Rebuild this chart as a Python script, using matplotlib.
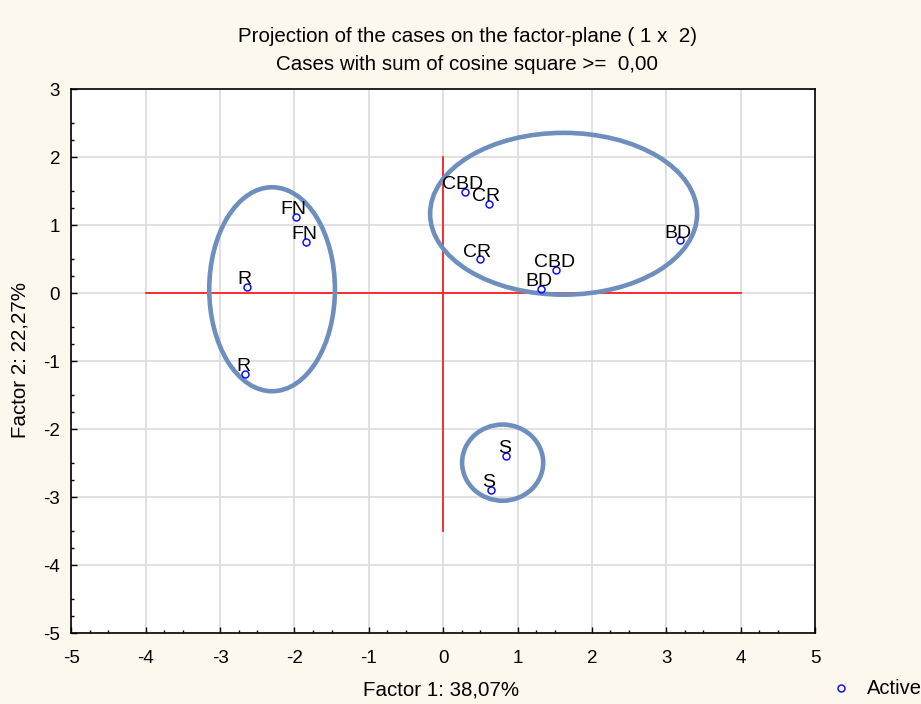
import numpy as np
import matplotlib.pyplot as plt
from matplotlib.patches import Ellipse
from matplotlib.ticker import MultipleLocator, FixedLocator

plt.rcParams['font.family'] = ['Liberation Sans', 'DejaVu Sans']
plt.rcParams['axes.unicode_minus'] = False

# case coordinates on the factor plane
labels = ['CBD', 'CR', 'CR', 'CBD', 'BD', 'BD', 'FN', 'FN', 'R', 'R', 'S', 'S']
factor1 = [0.29, 0.61, 0.49, 1.52, 1.32, 3.19, -1.98, -1.84, -2.64, -2.66, 0.85, 0.64]
factor2 = [1.49, 1.31, 0.50, 0.35, 0.06, 0.78, 1.12, 0.76, 0.09, -1.18, -2.39, -2.89]

# hand drawn group ellipses: (centre x, centre y, width, height)
groups = [(-2.30, 0.06, 1.69, 3.00),
          (1.62, 1.17, 3.59, 2.38),
          (0.80, -2.49, 1.09, 1.12)]

bg = '#fdf8ee'
fig = plt.figure(figsize=(9.21, 7.04), dpi=100, facecolor=bg)
ax = fig.add_axes([0.0774, 0.1004, 0.8075, 0.7727])

ax.set_xlim(-5, 5)
ax.set_ylim(-5, 3)
ax.xaxis.set_major_locator(MultipleLocator(1))
ax.yaxis.set_major_locator(MultipleLocator(1))
# two small ticks in each unit, like Statistica draws them
xs = np.arange(-5, 5)
ys = np.arange(-5, 3)
ax.xaxis.set_minor_locator(FixedLocator(np.concatenate([xs + 0.5, xs + 0.25])))
ax.yaxis.set_minor_locator(FixedLocator(np.concatenate([ys + 0.5, ys + 0.25])))
ax.tick_params(which='both', direction='in', color='black')
ax.tick_params(which='major', length=4, width=1, labelsize=13.5, pad=8)
ax.tick_params(which='minor', length=2.5, width=1)
ax.tick_params(axis='x', pad=12)
ax.grid(True, which='major', color='#dcdcdc', lw=1.2)
ax.set_axisbelow(True)
for s in ax.spines.values():
    s.set_linewidth(1.2)

# origin cross
ax.plot([-4, 4], [0, 0], color='#ff2020', lw=1.3, zorder=2)
ax.plot([0, 0], [-3.5, 2], color='#ff2020', lw=1.3, zorder=2)

ax.plot(factor1, factor2, 'o', mfc='none', mec='#1010ff', ms=5, mew=1.1, zorder=4)
for lab, x, y in zip(labels, factor1, factor2):
    ax.annotate(lab, (x, y), xytext=(-1.5, 2), textcoords='offset points',
                ha='center', va='baseline', fontsize=14, zorder=5)

for cx, cy, w, h in groups:
    ax.add_patch(Ellipse((cx, cy), w, h, fill=False, ec='#6e8fbe', lw=3.3, zorder=3))

fig.text(0.5075, 0.948, 'Projection of the cases on the factor-plane ( 1 x  2)',
         ha='center', va='center', fontsize=14.8)
fig.text(0.5075, 0.908, 'Cases with sum of cosine square >=  0,00',
         ha='center', va='center', fontsize=14.8)
fig.text(0.479, 0.02, 'Factor 1: 38,07%', ha='center', va='center', fontsize=14.8)
fig.text(0.022, 0.489, 'Factor 2: 22,27%', ha='center', va='center',
         rotation=90, fontsize=14.8)

# legend entry
fig.lines.append(plt.Line2D([0.9128], [0.0223], transform=fig.transFigure, marker='o',
                            mfc='none', mec='#1010ff', ms=5, mew=1.1, ls='none'))
fig.text(0.941, 0.0223, 'Active', ha='left', va='center', fontsize=14.5)

fig.savefig('out.png', dpi=100, facecolor=bg)
